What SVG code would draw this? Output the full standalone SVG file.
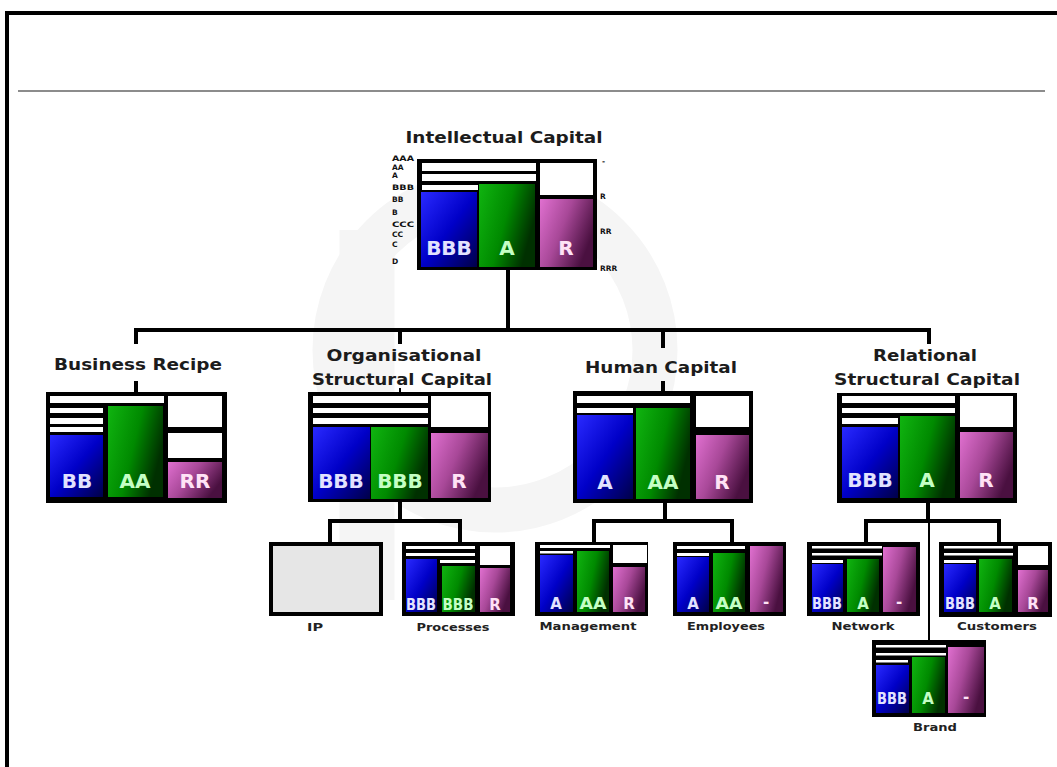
<svg xmlns="http://www.w3.org/2000/svg" width="1057" height="767" viewBox="0 0 1057 767">
<defs>
<linearGradient id="gb" x1="0" y1="0" x2="1" y2="1"><stop offset="0" stop-color="#2a2aff"/><stop offset="0.5" stop-color="#0000c8"/><stop offset="1" stop-color="#000048"/></linearGradient>
<linearGradient id="gg" x1="0" y1="0" x2="1" y2="0.4"><stop offset="0" stop-color="#10b410"/><stop offset="0.55" stop-color="#008a00"/><stop offset="1" stop-color="#003000"/></linearGradient>
<linearGradient id="gp" x1="0" y1="0" x2="1" y2="0.5"><stop offset="0" stop-color="#e070d0"/><stop offset="0.5" stop-color="#a84898"/><stop offset="1" stop-color="#4a1040"/></linearGradient>
<style>
.bx{fill:#000}
.w{fill:#fff}
.b{fill:url(#gb)}
.g{fill:url(#gg)}
.p{fill:url(#gp)}
.ip{fill:#e6e6e6;stroke:#000;stroke-width:4}
.t{font-family:"DejaVu Sans","Liberation Sans",sans-serif;font-weight:bold;fill:#1c1c1c;text-anchor:middle;font-size:16px}
.s{font-family:"DejaVu Sans","Liberation Sans",sans-serif;font-weight:bold;fill:#222;text-anchor:middle;font-size:11px}
.ax{font-family:"DejaVu Sans","Liberation Sans",sans-serif;font-weight:bold;fill:#111;font-size:7.5px}
.L{font-family:"DejaVu Sans","Liberation Sans",sans-serif;font-weight:bold;text-anchor:middle;font-size:20px}
.M{font-family:"DejaVu Sans","Liberation Sans",sans-serif;font-weight:bold;text-anchor:middle;font-size:15px}
.lb{fill:#e2e2ff}
.lg{fill:#c4ffc4}
.lp{fill:#ffe2f6}
.ln{stroke:#000;stroke-width:4;fill:none}
.thin{stroke:#000;stroke-width:2;fill:none}
</style>
</defs>
<rect x="0" y="0" width="1057" height="767" fill="#fff"/>
<g id="watermark" fill="none" stroke="#f5f5f5">
<circle cx="495" cy="350" r="160" stroke-width="45"/>
<line x1="367" y1="230" x2="367" y2="600" stroke-width="55"/>
</g>
<rect x="7" y="13" width="1070" height="780" fill="none" stroke="#000" stroke-width="4"/>
<line x1="18" y1="91" x2="1045" y2="91" stroke="#8c8c8c" stroke-width="2"/>

<g id="connectors">
<line class="ln" x1="508" y1="269" x2="508" y2="331"/>
<line class="ln" x1="134" y1="330" x2="931" y2="330"/>
<line class="ln" x1="136" y1="330" x2="136" y2="344"/>
<line class="ln" x1="136" y1="381" x2="136" y2="393"/>
<line class="ln" x1="400" y1="330" x2="400" y2="344"/>
<line class="thin" x1="400" y1="388" x2="400" y2="393"/>
<line class="ln" x1="663" y1="330" x2="663" y2="348"/>
<line class="ln" x1="663" y1="381" x2="663" y2="392"/>
<line class="ln" x1="929" y1="330" x2="929" y2="344"/>
<line class="ln" x1="400" y1="501" x2="400" y2="521"/>
<line class="ln" x1="328" y1="521" x2="462" y2="521"/>
<line class="ln" x1="330" y1="521" x2="330" y2="543"/>
<line class="ln" x1="460" y1="521" x2="460" y2="543"/>
<line class="ln" x1="665" y1="502" x2="665" y2="521"/>
<line class="ln" x1="592" y1="521" x2="734" y2="521"/>
<line class="ln" x1="594" y1="521" x2="594" y2="543"/>
<line class="ln" x1="732" y1="521" x2="732" y2="543"/>
<line class="ln" x1="928" y1="502" x2="928" y2="521"/>
<line class="ln" x1="864" y1="521" x2="1001" y2="521"/>
<line class="ln" x1="866" y1="521" x2="866" y2="543"/>
<line class="ln" x1="999" y1="521" x2="999" y2="543"/>
<line class="thin" x1="929" y1="521" x2="929" y2="641"/>
</g>

<g id="intellectual-capital">
<text class="t" x="504" y="143" font-size="17" textLength="197" lengthAdjust="spacingAndGlyphs">Intellectual Capital</text>
<rect class="bx" x="417" y="159" width="180" height="111"/>
<rect class="w" x="422" y="163" width="114" height="8"/>
<rect class="w" x="422" y="174" width="114" height="7"/>
<rect class="w" x="422" y="185" width="56" height="5"/>
<rect class="b" x="421" y="192" width="56" height="75"/>
<rect class="g" x="479" y="184" width="56" height="83"/>
<rect class="w" x="540" y="163" width="53" height="32"/>
<rect class="p" x="540" y="199" width="53" height="68"/>
<text class="L lb" x="449" y="255">BBB</text>
<text class="L lg" x="507" y="255">A</text>
<text class="L lp" x="566" y="255">R</text>
<text class="ax" x="392" y="161" textLength="22" lengthAdjust="spacingAndGlyphs">AAA</text>
<text class="ax" x="392" y="169.5">AA</text>
<text class="ax" x="392" y="178">A</text>
<text class="ax" x="392" y="190" textLength="22" lengthAdjust="spacingAndGlyphs">BBB</text>
<text class="ax" x="392" y="202">BB</text>
<text class="ax" x="392" y="215">B</text>
<text class="ax" x="392" y="227" textLength="22" lengthAdjust="spacingAndGlyphs">CCC</text>
<text class="ax" x="392" y="237">CC</text>
<text class="ax" x="392" y="247">C</text>
<text class="ax" x="392" y="264">D</text>
<text class="ax" x="602" y="164">-</text>
<text class="ax" x="600" y="199">R</text>
<text class="ax" x="600" y="234">RR</text>
<text class="ax" x="600" y="271">RRR</text>
</g>

<g id="business-recipe">
<text class="t" x="138" y="370" textLength="168" lengthAdjust="spacingAndGlyphs">Business Recipe</text>
<rect class="bx" x="46" y="392" width="181" height="111"/>
<rect class="w" x="50" y="396" width="114" height="7"/>
<rect class="w" x="50" y="408" width="53" height="5"/>
<rect class="w" x="50" y="418" width="53" height="6"/>
<rect class="w" x="50" y="427" width="53" height="5"/>
<rect class="b" x="50" y="435" width="53" height="62"/>
<rect class="g" x="108" y="406" width="55" height="91"/>
<rect class="w" x="168" y="396" width="54" height="31"/>
<rect class="w" x="168" y="433" width="54" height="25"/>
<rect class="p" x="168" y="462" width="54" height="36"/>
<text class="L lb" x="77" y="488">BB</text>
<text class="L lg" x="135" y="488">AA</text>
<text class="L lp" x="195" y="488">RR</text>
</g>

<g id="organisational-structural-capital">
<text class="t" x="404" y="361" textLength="155" lengthAdjust="spacingAndGlyphs">Organisational</text>
<text class="t" x="402" y="385" textLength="180" lengthAdjust="spacingAndGlyphs">Structural Capital</text>
<rect class="bx" x="308" y="392" width="183" height="110"/>
<rect class="w" x="313" y="396" width="115" height="7"/>
<rect class="w" x="313" y="408" width="115" height="5"/>
<rect class="w" x="313" y="418" width="115" height="6"/>
<rect class="b" x="313" y="427" width="57" height="72"/>
<rect class="g" x="371" y="427" width="57" height="72"/>
<rect class="w" x="431" y="396" width="57" height="31"/>
<rect class="p" x="431" y="433" width="57" height="65"/>
<text class="L lb" x="341" y="488">BBB</text>
<text class="L lg" x="400" y="488">BBB</text>
<text class="L lp" x="459" y="488">R</text>
</g>

<g id="human-capital">
<text class="t" x="661" y="373" textLength="152" lengthAdjust="spacingAndGlyphs">Human Capital</text>
<rect class="bx" x="573" y="391" width="180" height="112"/>
<rect class="w" x="577" y="396" width="113" height="7"/>
<rect class="w" x="577" y="408" width="56" height="5"/>
<rect class="b" x="577" y="415" width="56" height="84"/>
<rect class="g" x="636" y="408" width="54" height="91"/>
<rect class="w" x="696" y="396" width="53" height="31"/>
<rect class="p" x="696" y="435" width="53" height="64"/>
<text class="L lb" x="605" y="489">A</text>
<text class="L lg" x="663" y="489">AA</text>
<text class="L lp" x="722" y="489">R</text>
</g>

<g id="relational-structural-capital">
<text class="t" x="925" y="361" textLength="104" lengthAdjust="spacingAndGlyphs">Relational</text>
<text class="t" x="927" y="385" textLength="186" lengthAdjust="spacingAndGlyphs">Structural Capital</text>
<rect class="bx" x="837" y="393" width="180" height="110"/>
<rect class="w" x="842" y="396" width="113" height="7"/>
<rect class="w" x="842" y="408" width="113" height="5"/>
<rect class="w" x="842" y="418" width="56" height="6"/>
<rect class="b" x="842" y="427" width="56" height="71"/>
<rect class="g" x="900" y="416" width="55" height="82"/>
<rect class="w" x="960" y="396" width="53" height="31"/>
<rect class="p" x="960" y="432" width="53" height="66"/>
<text class="L lb" x="870" y="487">BBB</text>
<text class="L lg" x="927" y="487">A</text>
<text class="L lp" x="986" y="487">R</text>
</g>

<g id="ip">
<rect class="ip" x="271" y="544" width="110" height="70"/>
<text class="s" x="315" y="631" textLength="16" lengthAdjust="spacingAndGlyphs">IP</text>
</g>

<g id="processes">
<rect class="bx" x="402" y="542" width="113" height="74"/>
<rect class="w" x="406" y="546" width="69" height="3"/>
<rect class="w" x="406" y="553" width="69" height="3"/>
<rect class="w" x="440" y="560" width="35" height="3"/>
<rect class="b" x="406" y="559" width="31" height="53"/>
<rect class="g" x="442" y="566" width="33" height="46"/>
<rect class="w" x="480" y="546" width="30" height="19"/>
<rect class="p" x="480" y="568" width="30" height="44"/>
<text class="M lb" x="421" y="610" textLength="30" lengthAdjust="spacingAndGlyphs">BBB</text>
<text class="M lg" x="458" y="610" textLength="31" lengthAdjust="spacingAndGlyphs">BBB</text>
<text class="M lp" x="495" y="610">R</text>
<text class="s" x="453" y="631" textLength="73" lengthAdjust="spacingAndGlyphs">Processes</text>
</g>

<g id="management">
<rect class="bx" x="535" y="542" width="113" height="74"/>
<rect class="w" x="540" y="545" width="70" height="3"/>
<rect class="w" x="540" y="551" width="33" height="2.5"/>
<rect class="b" x="540" y="555" width="33" height="57"/>
<rect class="g" x="577" y="551" width="32" height="61"/>
<rect class="w" x="613" y="545" width="34" height="18"/>
<rect class="p" x="613" y="567" width="32" height="45"/>
<text class="M lb" x="556" y="609">A</text>
<text class="M lg" x="593" y="609" textLength="27" lengthAdjust="spacingAndGlyphs">AA</text>
<text class="M lp" x="629" y="609">R</text>
<text class="s" x="588" y="630" textLength="97" lengthAdjust="spacingAndGlyphs">Management</text>
</g>

<g id="employees">
<rect class="bx" x="673" y="542" width="113" height="74"/>
<rect class="w" x="677" y="546" width="68" height="3"/>
<rect class="w" x="677" y="553" width="32" height="3"/>
<rect class="b" x="677" y="557" width="32" height="55"/>
<rect class="g" x="713" y="553" width="32" height="59"/>
<rect class="p" x="750" y="546" width="33" height="66"/>
<text class="M lb" x="693" y="609">A</text>
<text class="M lg" x="729" y="609" textLength="27" lengthAdjust="spacingAndGlyphs">AA</text>
<text class="M lp" x="766" y="607">-</text>
<text class="s" x="726" y="630" textLength="78" lengthAdjust="spacingAndGlyphs">Employees</text>
</g>

<g id="network">
<rect class="bx" x="807" y="542" width="113" height="74"/>
<rect class="w" x="812" y="546" width="70" height="2.5"/>
<rect class="w" x="812" y="553" width="70" height="2.5"/>
<rect class="w" x="812" y="560" width="31" height="3"/>
<rect class="b" x="812" y="564" width="31" height="48"/>
<rect class="g" x="847" y="559" width="32" height="53"/>
<rect class="p" x="883" y="547" width="33" height="65"/>
<text class="M lb" x="827" y="609" textLength="30" lengthAdjust="spacingAndGlyphs">BBB</text>
<text class="M lg" x="863" y="609">A</text>
<text class="M lp" x="899" y="607">-</text>
<text class="s" x="863" y="630" textLength="63" lengthAdjust="spacingAndGlyphs">Network</text>
</g>

<g id="customers">
<rect class="bx" x="939" y="542" width="113" height="75"/>
<rect class="w" x="944" y="546" width="69" height="2.5"/>
<rect class="w" x="944" y="553" width="69" height="2.5"/>
<rect class="w" x="944" y="560" width="32" height="3"/>
<rect class="b" x="944" y="564" width="32" height="48"/>
<rect class="g" x="979" y="559" width="33" height="53"/>
<rect class="w" x="1018" y="546" width="30" height="19"/>
<rect class="p" x="1018" y="570" width="30" height="42"/>
<text class="M lb" x="960" y="609" textLength="30" lengthAdjust="spacingAndGlyphs">BBB</text>
<text class="M lg" x="995" y="609">A</text>
<text class="M lp" x="1033" y="609">R</text>
<text class="s" x="997" y="630" textLength="80" lengthAdjust="spacingAndGlyphs">Customers</text>
</g>

<g id="brand">
<rect class="bx" x="872" y="640" width="114" height="77"/>
<rect class="w" x="876" y="645" width="70" height="2.5"/>
<rect class="w" x="876" y="653" width="70" height="2.5"/>
<rect class="w" x="876" y="660" width="32" height="2.5"/>
<rect class="b" x="876" y="665" width="33" height="48"/>
<rect class="g" x="912" y="657" width="33" height="56"/>
<rect class="p" x="948" y="647" width="36" height="66"/>
<text class="M lb" x="892" y="704" textLength="30" lengthAdjust="spacingAndGlyphs">BBB</text>
<text class="M lg" x="928" y="704">A</text>
<text class="M lp" x="966" y="702">-</text>
<text class="s" x="935" y="731" textLength="44" lengthAdjust="spacingAndGlyphs">Brand</text>
</g>
</svg>
